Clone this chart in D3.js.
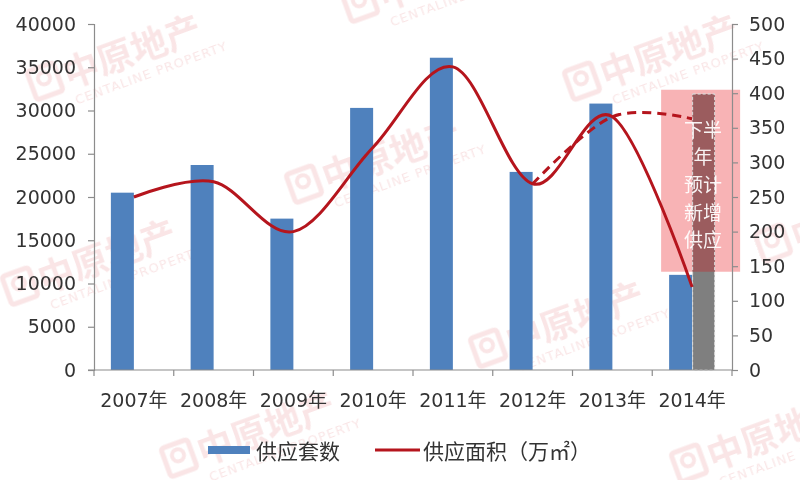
<!DOCTYPE html>
<html><head><meta charset="utf-8">
<script src="https://cdn.jsdelivr.net/npm/d3@7"></script>
<style>html,body{margin:0;padding:0;background:#fff;}svg{display:block;}</style>
</head><body>
<svg id="c" width="800" height="480"></svg>
<script>
const years = ["2007年","2008年","2009年","2010年","2011年","2012年","2013年","2014年"];
const units = [20500, 23700, 17500, 30300, 36100, 22900, 30800, 11000];      // 供应套数
const forecastUnits = [null, null, null, null, null, null, null, 31900];     // 下半年预计新增供应
const area = [250, 272, 200, 322, 438, 269, 366, 120];                       // 供应面积（万㎡）
const areaForecast = [null, null, null, null, null, 269, 366, 363];
const leftTicks = [0,5000,10000,15000,20000,25000,30000,35000,40000];
const rightTicks = [0,50,100,150,200,250,300,350,400,450,500];
const noteLines = ["下半","年","预计","新增","供应"];
const noteRange = [405, 142]; // right-axis span of the highlight box

const svg = d3.select("#c");
const pL = 94, pR = 732, pT = 24, pB = 370;
const x = d3.scaleBand().domain(years).range([pL, pR]);
const yL = d3.scaleLinear().domain([0, 40000]).range([pB, pT]);
const yR = d3.scaleLinear().domain([0, 500]).range([pB, pT]);
const axisColor = "#8c8c8c";
const font = "'DejaVu Sans','Noto Sans CJK SC',sans-serif";
const cjk = "'Noto Sans CJK SC',sans-serif";
const cx = d => x(d) + x.bandwidth()/2;
const lastYear = years[years.length - 1];

// watermarks
const marks = [[37,100],[352,22],[574,100],[296,203],[12,305],[765,262],[480,367],[171,477],[681,482]];
const wm = svg.append("g").attr("opacity", 0.12);
marks.forEach(([mx,my]) => {
  const g = wm.append("g").attr("transform", `translate(${mx},${my}) rotate(-20)`);
  g.append("rect").attr("x", 0).attr("y", -30).attr("width", 28).attr("height", 30).attr("rx", 3)
    .attr("fill", "none").attr("stroke", "#d0282e").attr("stroke-width", 5);
  g.append("circle").attr("cx", 14).attr("cy", -18).attr("r", 6).attr("fill", "none").attr("stroke", "#d0282e").attr("stroke-width", 4);
  g.append("text").attr("x", 34).attr("y", 0).attr("font-family", cjk).attr("font-weight", 700)
    .attr("font-size", 36).attr("fill", "#d0282e").text("中原地产");
  g.append("text").attr("x", 36).attr("y", 18).attr("font-family", font)
    .attr("font-size", 13).attr("letter-spacing", 1).attr("fill", "#d0282e").text("CENTALINE PROPERTY");
});

// highlight box geometry
const boxX = cx(lastYear) - 31, boxW = 79;
const boxY = yR(noteRange[0]), boxH = yR(noteRange[1]) - yR(noteRange[0]);
svg.append("defs").append("clipPath").attr("id", "boxclip")
  .append("rect").attr("x", boxX).attr("y", boxY).attr("width", boxW).attr("height", boxH);
svg.append("rect").attr("x", boxX).attr("y", boxY).attr("width", boxW).attr("height", boxH)
  .attr("fill", "#f8b3b5");

const barW = 23;
// blue bars
svg.append("g").selectAll("rect").data(years).join("rect")
  .attr("x", d => x(d) + x.bandwidth()/2 - barW)
  .attr("width", barW)
  .attr("y", (d,i) => yL(units[i]))
  .attr("height", (d,i) => yL(0) - yL(units[i]))
  .attr("fill", "#4f81bd");
// forecast gray bar (plain, then tinted where the box covers it)
const fc = years.map((d,i) => [d, forecastUnits[i]]).filter(d => d[1] != null);
[["#7f7f7f", null], ["#9b5c5e", "url(#boxclip)"]].forEach(([col, clip]) => {
  svg.append("g").attr("clip-path", clip).selectAll("rect").data(fc).join("rect")
    .attr("x", d => cx(d[0]) + 0.5)
    .attr("width", barW - 1)
    .attr("y", d => yL(d[1]))
    .attr("height", d => yL(0) - yL(d[1]))
    .attr("fill", col).attr("stroke", "#d9d9d9").attr("stroke-width", 1).attr("stroke-dasharray", "3,2");
});

// lines
const line = d3.line().defined(d => d[1] != null).x(d => cx(d[0])).y(d => yR(d[1])).curve(d3.curveCardinal.tension(0));
svg.append("path").attr("d", line(years.map((d,i) => [d, areaForecast[i]])))
  .attr("fill", "none").attr("stroke", "#b5151d").attr("stroke-width", 3).attr("stroke-dasharray", "9,6");
svg.append("path").attr("d", line(years.map((d,i) => [d, area[i]])))
  .attr("fill", "none").attr("stroke", "#b5151d").attr("stroke-width", 3);

// note text
const noteY = [128, 155, 183, 211, 238];
svg.append("g").selectAll("text").data(noteLines).join("text")
  .attr("x", cx(lastYear) + 11).attr("y", (d,i) => noteY[i])
  .attr("text-anchor", "middle").attr("dominant-baseline", "central")
  .attr("font-family", cjk).attr("font-size", 19).attr("fill", "#ffffff").attr("fill-opacity", 0.92).text(d => d);

// axes
const axL = svg.append("g").attr("transform", `translate(${pL},0)`)
  .call(d3.axisLeft(yL).tickValues(leftTicks).tickSize(6).tickPadding(12).tickFormat(d3.format("d")));
const axR = svg.append("g").attr("transform", `translate(${pR},0)`)
  .call(d3.axisRight(yR).tickValues(rightTicks).tickSize(6).tickPadding(11).tickFormat(d3.format("d")));
const axB = svg.append("g").attr("transform", `translate(0,${pB})`)
  .call(d3.axisBottom(x).tickSize(0).tickPadding(24));
[axL, axR, axB].forEach(a => {
  a.selectAll("path.domain, line").attr("stroke", axisColor).attr("stroke-width", 1.2);
  a.selectAll("text").attr("font-family", font).attr("font-size", 19).attr("fill", "#333");
});
axB.select("path.domain").attr("d", `M${pL-6},0H${pR}`);
// category boundary ticks
svg.append("g").selectAll("line").data(d3.range(years.length + 1)).join("line")
  .attr("x1", i => pL + i * x.step()).attr("x2", i => pL + i * x.step())
  .attr("y1", pB).attr("y2", pB + 6).attr("stroke", axisColor).attr("stroke-width", 1.2);

// legend
const lg = svg.append("g");
lg.append("rect").attr("x", 208).attr("y", 446).attr("width", 42).attr("height", 8).attr("fill", "#4f81bd");
lg.append("text").attr("x", 256).attr("y", 450).attr("dominant-baseline", "central")
  .attr("font-family", cjk).attr("font-size", 21).attr("fill", "#333").text("供应套数");
lg.append("line").attr("x1", 375).attr("x2", 420).attr("y1", 450).attr("y2", 450)
  .attr("stroke", "#b5151d").attr("stroke-width", 3);
lg.append("text").attr("x", 423).attr("y", 450).attr("dominant-baseline", "central")
  .attr("font-family", cjk).attr("font-size", 21).attr("fill", "#333").text("供应面积（万㎡）");
</script>
</body></html>
